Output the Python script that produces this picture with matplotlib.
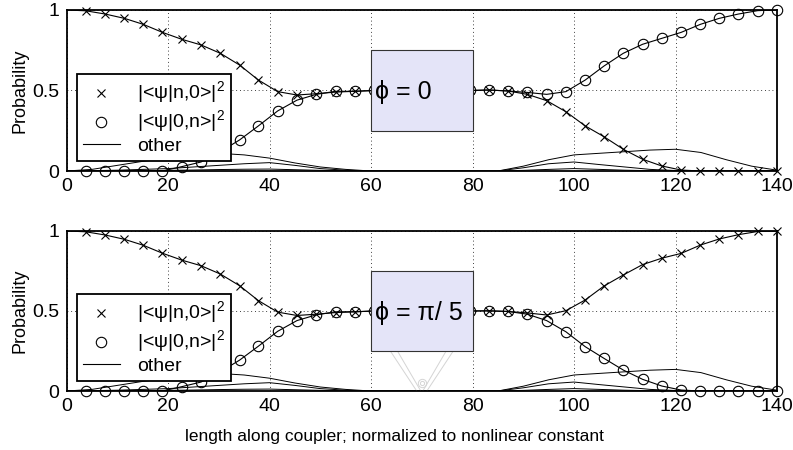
import numpy as np
import matplotlib
matplotlib.use("Agg")
import matplotlib.pyplot as plt
from matplotlib.lines import Line2D
from matplotlib.patches import Rectangle

plt.rcParams['font.family'] = ['Liberation Sans', 'DejaVu Sans']
plt.rcParams['mathtext.fontset'] = 'custom'
plt.rcParams['mathtext.rm'] = 'Liberation Sans'

# marker positions along the coupler (37 samples, 0..140)
xm = [3.8, 7.6, 11.4, 15.1, 18.9, 22.7, 26.5, 30.3, 34.1, 37.8, 41.6, 45.4, 49.2,
      53.0, 56.8, 60.5, 64.3, 68.1, 71.9, 75.7, 79.5, 83.2, 87.0, 90.8, 94.6,
      98.4, 102.2, 105.9, 109.7, 113.5, 117.3, 121.1, 124.9, 128.6, 132.4, 136.2, 140.0]

# |<psi|n,0>|^2 and |<psi|0,n>|^2, top panel (phi = 0)
pn0_top = [0.995, 0.975, 0.948, 0.911, 0.861, 0.818, 0.783, 0.731, 0.658, 0.565, 0.493, 0.472, 0.48,
           0.49, 0.495, 0.5, 0.5, 0.5, 0.5, 0.5, 0.5, 0.503, 0.497, 0.476, 0.437,
           0.368, 0.28, 0.213, 0.135, 0.073, 0.031, 0.006, 0.0, 0.0, 0.0, 0.0, 0.0]
p0n_top = [0.0, 0.0, 0.0, 0.0, 0.0, 0.027, 0.056, 0.12, 0.193, 0.28, 0.373, 0.44, 0.476,
           0.495, 0.495, 0.5, 0.5, 0.5, 0.5, 0.5, 0.5, 0.503, 0.497, 0.488, 0.476,
           0.493, 0.565, 0.652, 0.731, 0.787, 0.824, 0.861, 0.911, 0.948, 0.975, 0.996, 1.0]

# bottom panel (phi = pi/5)
pn0_bot = [0.995, 0.975, 0.948, 0.911, 0.861, 0.818, 0.783, 0.731, 0.658, 0.565, 0.493, 0.472, 0.48,
           0.49, 0.495, 0.5, 0.5, 0.5, 0.5, 0.5, 0.5, 0.502, 0.497, 0.488, 0.475,
           0.502, 0.569, 0.656, 0.725, 0.79, 0.83, 0.86, 0.912, 0.95, 0.977, 0.997, 1.0]
p0n_bot = [0.0, 0.0, 0.0, 0.0, 0.0, 0.027, 0.056, 0.12, 0.193, 0.28, 0.373, 0.44, 0.476,
           0.495, 0.495, 0.5, 0.5, 0.5, 0.5, 0.5, 0.5, 0.5, 0.497, 0.48, 0.44,
           0.37, 0.277, 0.204, 0.131, 0.073, 0.031, 0.006, 0.0, 0.0, 0.0, 0.0, 0.0]

# "other" states, coarse samples
xo = [0, 5, 10, 15, 20, 25, 30, 35, 40, 45, 50, 55, 60, 65, 70, 75, 80,
      85, 90, 95, 100, 105, 110, 115, 120, 125, 130, 135, 140]
other1 = [0.0, 0.01, 0.035, 0.06, 0.08, 0.095, 0.11, 0.1, 0.08, 0.05, 0.025, 0.01, 0.0, 0.0, 0.0, 0.0, 0.0,
          0.0, 0.03, 0.07, 0.1, 0.11, 0.12, 0.13, 0.135, 0.115, 0.07, 0.03, 0.005]
other2 = [0.0, 0.002, 0.005, 0.01, 0.015, 0.025, 0.035, 0.045, 0.052, 0.035, 0.015, 0.005, 0.0, 0.0, 0.0, 0.0, 0.0,
          0.0, 0.02, 0.045, 0.056, 0.04, 0.025, 0.01, 0.003, 0.0, 0.0, 0.0, 0.0]
other3 = [0.0, 0.0, 0.001, 0.002, 0.004, 0.006, 0.009, 0.011, 0.012, 0.008, 0.004, 0.001, 0.0, 0.0, 0.0, 0.0, 0.0,
          0.0, 0.004, 0.01, 0.015, 0.01, 0.005, 0.002, 0.0, 0.0, 0.0, 0.0, 0.0]

# faint grey trace under the phi = pi/5 box
ghost_x1 = [63.8, 69.0]
ghost_x2 = [65.2, 69.8]
ghost_x3 = [76.2, 71.0]
ghost_x4 = [74.8, 70.2]
ghost_y = [0.25, 0.0]
ghost_dot_x = [70.0]
ghost_dot_y = [0.05]

labels = [r'|<ψ|n,0>|$^2$', r'|<ψ|0,n>|$^2$', 'other']
box_texts = ['ϕ = 0', 'ϕ = π/ 5']

fig = plt.figure(figsize=(7.93, 4.5), dpi=100)
ax1 = fig.add_axes([0.0839, 0.62, 0.896, 0.3578])
ax2 = fig.add_axes([0.0839, 0.1311, 0.896, 0.3556])

panels = [(ax1, pn0_top, p0n_top, box_texts[0]), (ax2, pn0_bot, p0n_bot, box_texts[1])]

for ax, a, b, txt in panels:
    for oc in (other1, other2, other3):
        ax.plot(xo, oc, color='k', lw=0.7, zorder=2)
    ax.plot([0] + xm, [1.0] + a, color='k', lw=0.8, zorder=3)
    ax.plot([0] + xm, [0.0] + b, color='k', lw=0.8, zorder=3)
    ax.plot(xm, a, 'x', color='k', ms=5.5, mew=0.8, zorder=4, clip_on=False)
    ax.plot(xm, b, 'o', mfc='none', mec='k', ms=7.5, mew=0.8, zorder=4, clip_on=False)

    if ax is ax2:
        gc = '#d4d4d4'
        for gx in (ghost_x1, ghost_x2, ghost_x3, ghost_x4):
            ax.plot(gx, ghost_y, color=gc, lw=0.7, zorder=2)
        ax.plot(ghost_dot_x, ghost_dot_y, 'o', mfc='none', mec=gc, ms=6, mew=0.7, zorder=2)
        ax.plot(ghost_dot_x, ghost_dot_y, 'o', mfc='none', mec=gc, ms=3, mew=0.7, zorder=2)

    ax.add_patch(Rectangle((60, 0.25), 20, 0.5, facecolor='#e4e4f8', edgecolor='#333333',
                           lw=0.8, zorder=6))
    ax.text(60.7, 0.49, txt, fontsize=18, va='center', ha='left', zorder=7)

    ax.set_xlim(0, 140)
    ax.set_ylim(0, 1)
    ax.set_xticks([0, 20, 40, 60, 80, 100, 120, 140])
    ax.set_yticks([0, 0.5, 1])
    ax.set_yticklabels(['0', '0.5', '1'])
    ax.tick_params(direction='in', length=0, labelsize=14, pad=5)
    ax.grid(True, color='k', linestyle=(0, (1, 3.5)), lw=0.6)
    for s in ax.spines.values():
        s.set_linewidth(1.3)
        s.set_zorder(8)
    ax.set_ylabel('Probability', fontsize=13, labelpad=3)

    handles = [Line2D([], [], marker='x', ls='none', color='k', ms=5.5, mew=0.8),
               Line2D([], [], marker='o', ls='none', mfc='none', mec='k', ms=7.5, mew=0.8),
               Line2D([], [], color='k', lw=0.8)]
    leg = ax.legend(handles, labels, loc='lower left', bbox_to_anchor=(0.0145, 0.062),
                    fontsize=14, frameon=True, fancybox=False, framealpha=1,
                    edgecolor='k', borderpad=0.3, labelspacing=0.12,
                    handlelength=1.9, handletextpad=0.9, borderaxespad=0)
    leg.get_frame().set_linewidth(1.3)
    leg.set_zorder(9)

ax2.set_xlabel('length along coupler; normalized to nonlinear constant', fontsize=12.5)
ax2.xaxis.set_label_coords(0.461, -0.24)

fig.savefig('out.png', dpi=100)
